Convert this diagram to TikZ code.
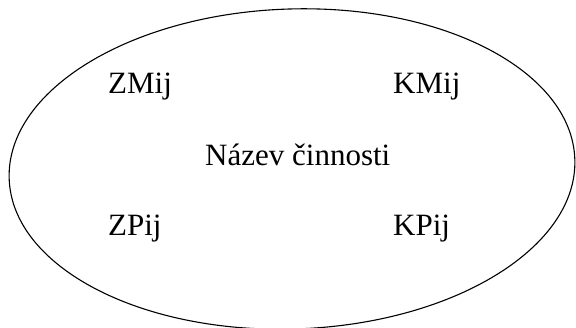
\documentclass[tikz,border=0pt]{standalone}
\usepackage{fontspec}
\setmainfont{Liberation Serif}
\usepackage{xcolor}
\usepackage{tikz}
\definecolor{ink}{HTML}{000000}
\tikzset{
  actOval/.style={draw=ink, line width=1.1pt},
  actLabel/.style={text=ink, font=\fontsize{31}{34}\selectfont, inner sep=0pt, anchor=base west}
}

\begin{document}
\begin{tikzpicture}[x=1pt, y=-1pt]
  \useasboundingbox (0,0) rectangle (576,327);
  \coordinate (C) at (292,169);

  \draw[actOval, rotate around={2:(C)}] (C) ellipse [x radius=283, y radius=160];

  \node[actLabel] (zm) at (108,93) {ZMij};
  \node[actLabel] (km) at (393,93) {KMij};
  \node[actLabel] (name) at (205,165) {Název činnosti};
  \node[actLabel] (zp) at (108,235) {ZPij};
  \node[actLabel] (kp) at (393,235) {KPij};
\end{tikzpicture}
\end{document}
